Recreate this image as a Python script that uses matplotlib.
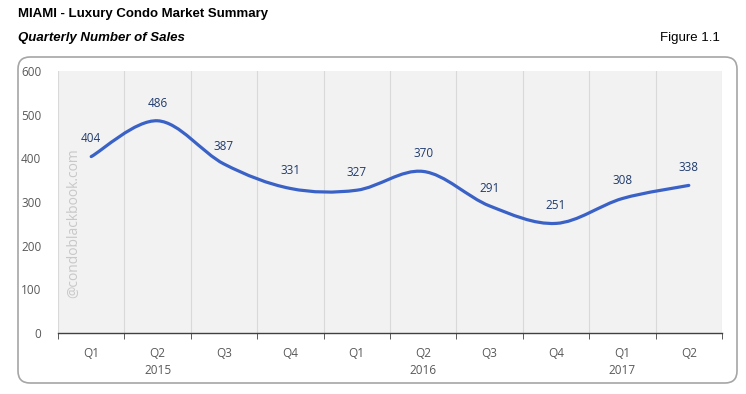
import matplotlib
matplotlib.use("Agg")
import matplotlib.pyplot as plt
import numpy as np
from matplotlib.path import Path
from matplotlib.patches import PathPatch, FancyBboxPatch
from matplotlib.transforms import IdentityTransform

# データ
quarters = ["Q1", "Q2", "Q3", "Q4", "Q1", "Q2", "Q3", "Q4", "Q1", "Q2"]
years = {1: "2015", 5: "2016", 8: "2017"}
sales = [404, 486, 387, 331, 327, 370, 291, 251, 308, 338]

line_color = "#3A62C6"
label_color = "#1F3B6E"
tick_color = "#595959"
font = ["Open Sans", "DejaVu Sans"]
title_font = ["Liberation Sans Narrow", "Liberation Sans", "DejaVu Sans"]

fig = plt.figure(figsize=(7.46, 3.94), dpi=100)
fig.patch.set_facecolor("white")

# rounded frame (pixel coords)
frame = FancyBboxPatch((18, 11), 719, 326, boxstyle="round,pad=0,rounding_size=12",
                       transform=IdentityTransform(), facecolor="white",
                       edgecolor="#A6A6A6", linewidth=1.2, zorder=-5)
fig.patches.append(frame)

fig.text(18 / 746, 1 - 14 / 394, "MIAMI - Luxury Condo Market Summary", fontsize=9.5,
         fontweight="bold", family=title_font, va="center", ha="left")
fig.text(18 / 746, 1 - 38 / 394, "Quarterly Number of Sales", fontsize=9.5,
         fontweight="bold", style="italic", family=title_font, va="center", ha="left")
fig.text(720 / 746, 1 - 38 / 394, "Figure 1.1", fontsize=9.5, family=title_font,
         va="center", ha="right")

ax = fig.add_axes([58 / 746, 1 - 333 / 394, 664 / 746, 262 / 394], zorder=2)
ax.set_facecolor("#F2F2F2")
x = np.arange(len(sales))
ax.set_xlim(-0.5, len(sales) - 0.5)
ax.set_ylim(0, 600)

# smoothed line (cubic bezier, catmull-rom style)
pts = np.column_stack([x, sales]).astype(float)
verts = [pts[0]]
codes = [Path.MOVETO]
n = len(pts)
for i in range(n - 1):
    p0 = pts[i - 1] if i > 0 else pts[i]
    p1 = pts[i]
    p2 = pts[i + 1]
    p3 = pts[i + 2] if i + 2 < n else pts[i + 1]
    c1 = p1 + (p2 - p0) / 6
    c2 = p2 - (p3 - p1) / 6
    verts += [c1, c2, p2]
    codes += [Path.CURVE4] * 3
ax.add_patch(PathPatch(Path(verts, codes), facecolor="none", edgecolor=line_color,
                       linewidth=2.3, capstyle="round", zorder=3))

for xi, v in zip(x, sales):
    ax.annotate(str(v), (xi, v), xytext=(0, 8), textcoords="offset points",
                ha="center", va="bottom", fontsize=8.5, color=label_color, family=font)

# watermark
ax.text(0.012, 0.42, "@condoblackbook.com", transform=ax.transAxes, rotation=90,
        fontsize=10, color="#C8C8C8", family=font, ha="left", va="center")

# axes styling
ax.set_xticks(x)
labels = [q + ("\n" + years[i] if i in years else "") for i, q in enumerate(quarters)]
ax.set_xticklabels(labels, fontsize=8.5, color=tick_color, family=font, va="top",
                   linespacing=1.45)
ax.tick_params(axis="x", which="major", length=0, pad=10)
ax.set_xticks(np.arange(-0.5, len(sales)), minor=True)
ax.tick_params(axis="x", which="minor", length=4, color="#404040", direction="out")
ax.grid(True, which="minor", axis="x", color="#D9D9D9", linewidth=0.8)
ax.set_axisbelow(True)

ax.set_yticks(range(0, 601, 100))
ax.set_yticklabels([str(v) for v in range(0, 601, 100)], fontsize=8.5, color=tick_color,
                   family=font)
ax.tick_params(axis="y", length=0, pad=12)

for s in ["top", "right", "left"]:
    ax.spines[s].set_visible(False)
ax.spines["bottom"].set_color("#404040")
ax.spines["bottom"].set_linewidth(1)

fig.savefig("out.png", dpi=100)
